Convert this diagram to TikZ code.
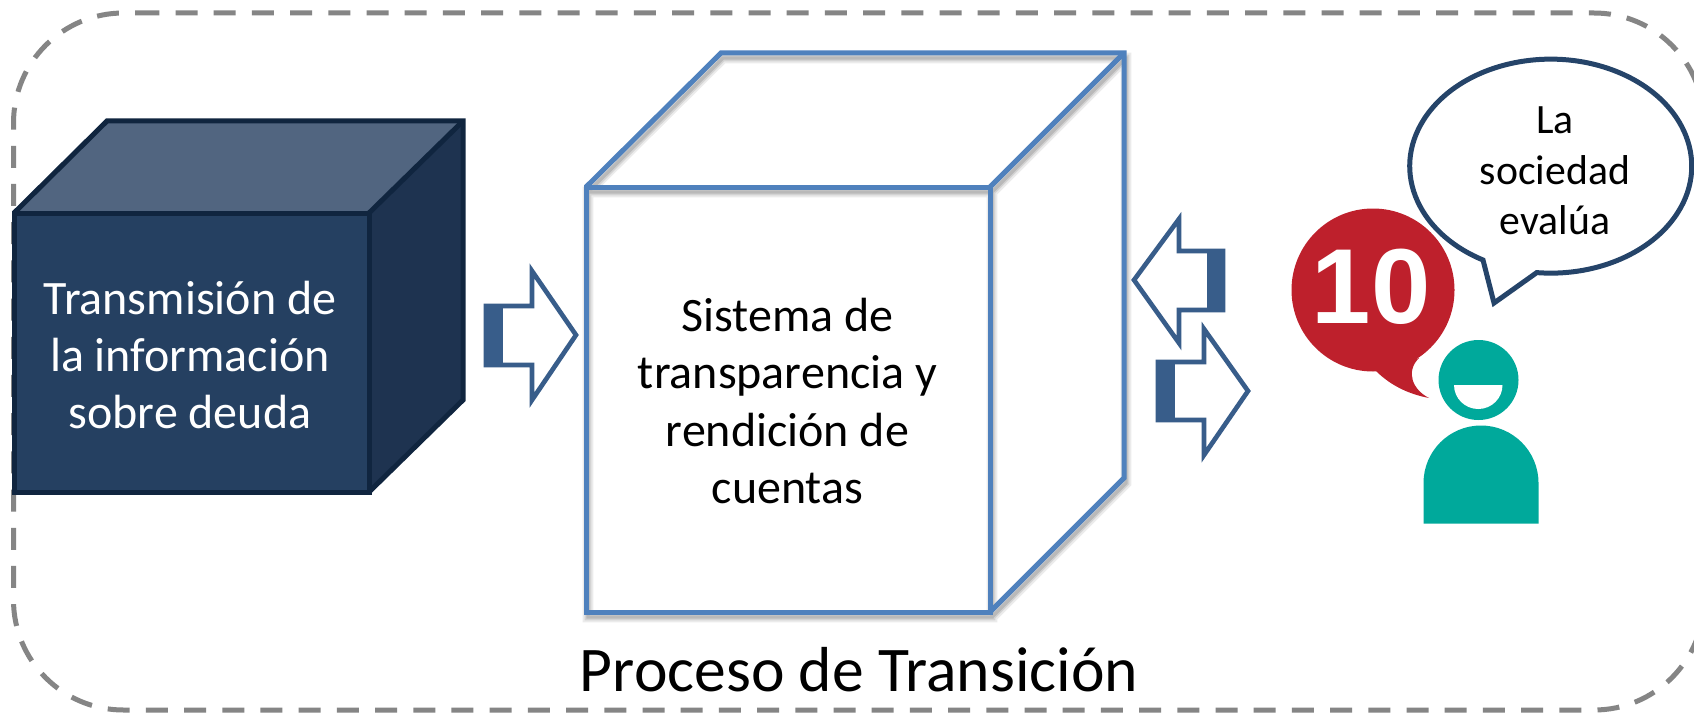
\documentclass[tikz,border=0pt]{standalone}
\usepackage{fontspec}
\setmainfont{Carlito}
\newfontfamily\badgefont{Liberation Sans}[Scale=1]

\definecolor{dashgray}{HTML}{858585}
\definecolor{darkline}{HTML}{10253F}
\definecolor{darkfront}{HTML}{254061}
\definecolor{darktop}{HTML}{516580}
\definecolor{darkside}{HTML}{1E3350}
\definecolor{cubeblue}{HTML}{4F81BD}
\definecolor{arrowblue}{HTML}{385D8A}
\definecolor{bubbleline}{HTML}{254469}
\definecolor{badgered}{HTML}{BE202C}
\definecolor{personteal}{HTML}{00A99B}

\tikzset{
  every picture/.style={line width=0.75pt},
  darkface/.style={draw=darkline,line width=3.75pt,line join=miter},
  cubeface/.style={draw=cubeblue,line width=3.75pt,line join=miter},
  softshadow/.style={draw=black,opacity=#1,line join=miter},
  blockarrow/.style={draw=arrowblue,fill=white,line width=3.5pt,line join=miter},
  arrowtail/.style={fill=arrowblue},
  boxtext/.style={inner sep=0pt,align=center,font=\fontsize{36pt}{43pt}\selectfont},
}

\begin{document}
\begin{tikzpicture}[x=0.75pt,y=0.75pt,yscale=-1,xscale=1]
\useasboundingbox (0,0) rectangle (1694,713);
\clip (0,0) rectangle (1694,713);
\fill [white] (0,0) rectangle (1694,713);

% Dashed frame
\draw [dashgray,line width=3.75pt,dash pattern=on 16.5pt off 12.15pt]
  (137.3,13) -- (1594,13) arc [start angle=-90,end angle=0,radius=110]
  -- (1704,600) arc [start angle=0,end angle=90,radius=110]
  -- (123.5,710) arc [start angle=90,end angle=180,radius=110]
  -- (13.5,123) arc [start angle=180,end angle=270,radius=110] -- cycle;

% Dark cube
\fill [darktop] (14,213) -- (107,121) -- (463,121) -- (369,213) -- cycle;
\fill [darkside] (369,213) -- (463,121) -- (463,400) -- (369,492) -- cycle;
\draw [darkface,fill=darkfront] (14,213) rectangle (369,492);
\draw [darkface] (14,213) -- (107,121) -- (463,121) -- (463,400) -- (369,492);
\draw [darkface] (369,213) -- (463,121);

% Shadow of the blue cube
\foreach \w/\o in {8/0.08,5/0.10,2.5/0.12}{
  \draw [softshadow=\o,line width=\w pt,shift={(2,5)}]
    (586,187) rectangle (990,612)
    (586,187) -- (721,53) -- (1124,53) -- (1124,478) -- (990,612)
    (990,187) -- (1124,53);
}
% Blue cube
\draw [cubeface] (586,187) -- (721,53) -- (1124,53) -- (1124,478) -- (990,612);
\draw [cubeface] (990,187) -- (1124,53);
\draw [cubeface] (586,187) rectangle (990,612);

% Block arrows
\draw [blockarrow] (486,306) -- (532,306) -- (532,271) -- (576,335) -- (532,400) -- (532,365) -- (486,365) -- cycle;
\fill [arrowtail] (484,304) rectangle (503,367);
\draw [blockarrow] (1223,251) -- (1179,251) -- (1179,219) -- (1134,280) -- (1179,343) -- (1179,310) -- (1223,310) -- cycle;
\fill [arrowtail] (1207,250) rectangle (1225,311);
\draw [blockarrow] (1158,362) -- (1204,362) -- (1204,329) -- (1248,391) -- (1204,455) -- (1204,420) -- (1158,420) -- cycle;
\fill [arrowtail] (1157,361) rectangle (1175,421);

% Red badge
\fill [badgered] (1373,290) circle [radius=81.5];
\fill [badgered] (1376,371) .. controls (1390,385) and (1408,394) .. (1429,398)
  .. controls (1413,390) and (1405,372) .. (1419,358) -- cycle;
\node (badgeTen) at (1371,287) [white,font=\badgefont\bfseries\fontsize{80pt}{80pt}\selectfont,inner sep=0pt] {10};

% Person
\fill [personteal] (1478.5,380) circle [radius=40];
\fill [white] (1454,385) -- (1502.5,385) arc [start angle=0,end angle=180,x radius=24.25,y radius=24] -- cycle;
\fill [personteal] (1423.5,523.5) -- (1423.5,483) arc [start angle=180,end angle=360,x radius=57.5,y radius=57.5] -- (1538.5,523.5) -- cycle;

% Speech bubble
\draw [bubbleline,fill=white,line width=3.75pt,line join=miter]
  (1483,260) arc [start angle=118.7,end angle=455.7,x radius=141,y radius=107] -- (1494,303) -- cycle;

% Text Node
\node (txtInfo) at (190,355) [boxtext,white] {Transmisión de\\la información\\sobre deuda};
% Text Node
\node (txtSistema) at (787.5,401) [boxtext] {Sistema de\\transparencia y\\rendición de\\cuentas};
% Text Node
\node (txtSociedad) at (1555,171) [inner sep=0pt,align=center,font=\fontsize{31.3pt}{38pt}\selectfont] {La\\sociedad\\evalúa};
% Text Node
\node (txtProceso) at (859,670) [inner sep=0pt,font=\fontsize{47.7pt}{58pt}\selectfont] {Proceso de Transición};

\end{tikzpicture}
\end{document}
